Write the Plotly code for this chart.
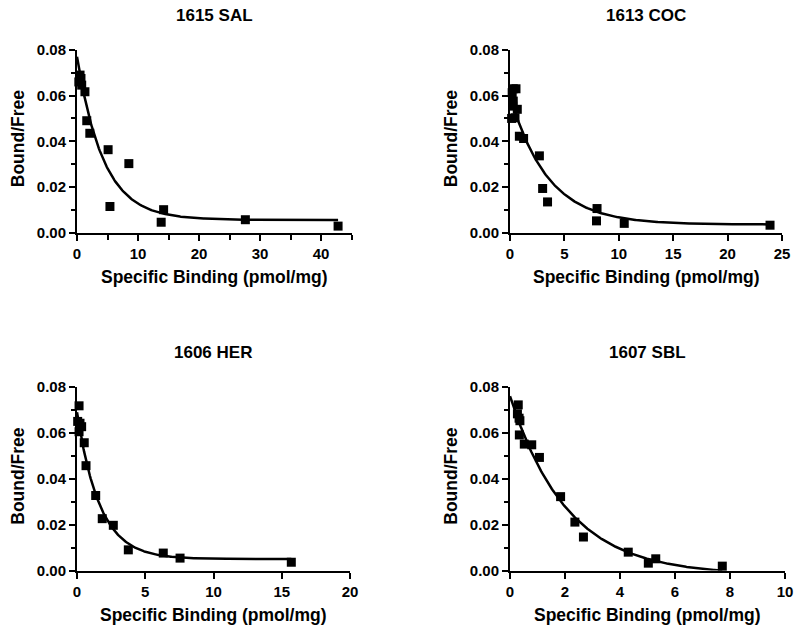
import numpy as np
import plotly.graph_objects as go

# ---------------- data ----------------
titles = ["1615 SAL", "1613 COC", "1606 HER", "1607 SBL"]

sal_x = [0.3, 0.5, 0.65, 0.77, 1.3, 1.6, 2.1, 5.1, 5.4, 8.5, 13.8, 14.2, 27.6, 42.8]
sal_y = [0.066, 0.069, 0.0675, 0.0646, 0.0617, 0.049, 0.0435, 0.0363, 0.0114, 0.0302, 0.0045, 0.0100, 0.0056, 0.0028]

coc_x = [0.15, 0.2, 0.25, 0.3, 0.3, 0.46, 0.55, 0.67, 0.86, 1.25, 2.7, 3.0, 3.45, 7.95, 8.0, 10.5, 23.9]
coc_y = [0.050, 0.0613, 0.0554, 0.063, 0.0576, 0.0503, 0.063, 0.054, 0.0422, 0.0412, 0.0336, 0.0193, 0.0134, 0.0051, 0.0105, 0.0040, 0.0032]

her_x = [0.05, 0.15, 0.15, 0.22, 0.34, 0.53, 0.66, 1.37, 1.85, 2.66, 3.76, 6.32, 7.55, 15.7]
her_y = [0.065, 0.0718, 0.0605, 0.0642, 0.0627, 0.0557, 0.0457, 0.0327, 0.0226, 0.0197, 0.0090, 0.0076, 0.0054, 0.0036]

sbl_x = [0.27, 0.3, 0.33, 0.34, 0.36, 0.52, 0.79, 1.07, 1.84, 2.36, 2.67, 4.3, 5.03, 5.3, 7.72]
sbl_y = [0.0683, 0.0722, 0.0664, 0.0591, 0.0653, 0.0551, 0.0548, 0.0493, 0.0322, 0.0211, 0.0146, 0.0080, 0.0032, 0.0051, 0.0019]

# one-phase exponential decay fit parameters (Y0, plateau, K)
fit_y0 = [0.077, 0.060, 0.069, 0.076]
fit_plateau = [0.0055, 0.0035, 0.005, -0.002]
fit_k = [0.23, 0.29, 0.60, 0.48]

x_ranges = [[0, 45], [0, 25], [0, 20], [0, 10]]
x_dticks = [10, 5, 5, 2]
x_minor = [5, None, None, None]

x_title = "Specific Binding (pmol/mg)"
y_title = "Bound/Free"

# ---------------- figure ----------------
W, H = 800, 633
xs_all = [sal_x, coc_x, her_x, sbl_x]
ys_all = [sal_y, coc_y, her_y, sbl_y]

# plot areas in pixels: (left, right, top, bottom)
areas = [(77, 351.5, 50, 232.5), (510, 782, 50, 232.5),
         (77, 350, 387, 570.5), (510, 785, 387, 570.5)]

FONT = "Liberation Sans, Arial, Helvetica, sans-serif"
fig = go.Figure()
annotations = []

for i in range(4):
    l, r, t, b = areas[i]
    xa = "xaxis" if i == 0 else f"xaxis{i+1}"
    ya = "yaxis" if i == 0 else f"yaxis{i+1}"
    xref = "x" if i == 0 else f"x{i+1}"
    yref = "y" if i == 0 else f"y{i+1}"

    # fitted curve
    xc = np.linspace(0, max(xs_all[i]), 300)
    yc = (fit_y0[i] - fit_plateau[i]) * np.exp(-fit_k[i] * xc) + fit_plateau[i]
    fig.add_trace(go.Scatter(x=xc, y=yc, mode="lines", xaxis=xref, yaxis=yref,
                             line=dict(color="black", width=2.5), showlegend=False,
                             hoverinfo="skip"))
    fig.add_trace(go.Scatter(x=xs_all[i], y=ys_all[i], mode="markers", xaxis=xref, yaxis=yref,
                             marker=dict(symbol="square", size=9, color="black"),
                             cliponaxis=False, showlegend=False))

    xaxis = dict(domain=[l / W, r / W], range=x_ranges[i], anchor=yref, automargin=False,
                 showgrid=False, zeroline=False, showline=True, linecolor="black", linewidth=2,
                 ticks="outside", ticklen=6, tickwidth=2, tickcolor="black",
                 dtick=x_dticks[i], tick0=0,
                 tickfont=dict(family=FONT, size=15, color="black", weight="bold"))
    if x_minor[i]:
        xaxis["minor"] = dict(dtick=x_minor[i], ticks="outside", ticklen=5, tickwidth=2,
                              tickcolor="black", showgrid=False)
    yaxis = dict(domain=[1 - b / H, 1 - t / H], range=[0, 0.08], anchor=xref, automargin=False,
                 showgrid=False, zeroline=False, showline=True, linecolor="black", linewidth=2,
                 ticks="outside", ticklen=6, tickwidth=2, tickcolor="black",
                 dtick=0.02, tick0=0, tickformat=".2f",
                 minor=dict(dtick=0.01, ticks="outside", ticklen=4, tickwidth=2,
                            tickcolor="black", showgrid=False),
                 tickfont=dict(family=FONT, size=15, color="black", weight="bold"))
    fig.update_layout({xa: xaxis, ya: yaxis})

    cx = (l + r) / 2
    cy = (t + b) / 2
    # panel title
    annotations.append(dict(text="<b>" + titles[i] + "</b>", x=cx / W, y=1 - (t - 34) / H,
                            xref="paper", yref="paper", showarrow=False,
                            xanchor="center", yanchor="middle",
                            font=dict(family=FONT, size=17, color="black")))
    # x-axis title
    annotations.append(dict(text="<b>" + x_title + "</b>", x=cx / W, y=1 - (b + 44) / H,
                            xref="paper", yref="paper", showarrow=False,
                            xanchor="center", yanchor="middle",
                            font=dict(family=FONT, size=17.5, color="black")))
    # y-axis title
    annotations.append(dict(text="<b>" + y_title + "</b>", x=(l - 59) / W, y=1 - (cy - 2) / H,
                            xref="paper", yref="paper", showarrow=False, textangle=-90,
                            xanchor="center", yanchor="middle",
                            font=dict(family=FONT, size=17.5, color="black")))

fig.update_layout(width=W, height=H, autosize=False, template="none",
                  margin=dict(l=0, r=0, t=0, b=0),
                  paper_bgcolor="white", plot_bgcolor="white",
                  annotations=annotations, showlegend=False)

fig.write_html("out.html", config={"displayModeBar": False, "staticPlot": True},
               post_script="document.body.style.margin='0px';document.body.style.overflow='hidden';")
